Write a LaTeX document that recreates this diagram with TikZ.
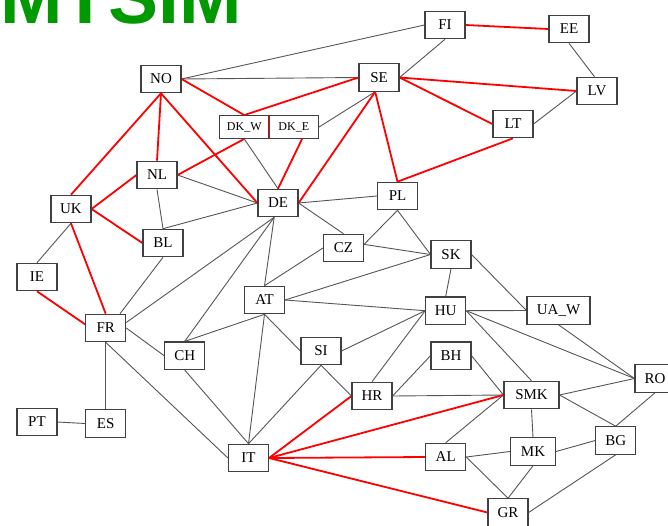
\documentclass[tikz,border=0pt]{standalone}
\usepackage{fontspec}
\setmainfont{Liberation Serif}
\newfontfamily\titlefont{Liberation Sans}
\definecolor{ttlgreen}{RGB}{0,153,0}
\definecolor{edgegray}{RGB}{85,85,85}
\definecolor{boxgray}{RGB}{64,64,64}
\pgfdeclarelayer{bg}
\pgfsetlayers{bg,main}
\begin{document}
\begin{tikzpicture}[x=1pt,y=-1pt,
  area/.style={draw=boxgray, line width=1.1pt, fill=white, minimum width=40pt,
    minimum height=27.5pt, inner sep=0pt, font=\fontsize{15}{15}\selectfont},
  dkbox/.style={area, minimum width=49.5pt, minimum height=22.7pt, font=\fontsize{12}{12}\selectfont},
  gl/.style={draw=edgegray, line width=0.9pt},
  rl/.style={draw=red, line width=1.8pt},
  ttl/.style={anchor=base west, inner sep=0pt, font=\titlefont\bfseries\fontsize{75}{75}\selectfont}]
\useasboundingbox (0,0) rectangle (668,525);
\clip (0,0) rectangle (668,525);
% title
\node[ttl, text=ttlgreen] (title) at (0,23) {MTSIM};
% nodes
\node[area] (fi) at (445,25) {FI};
\node[area] (ee) at (569,29) {EE};
\node[area] (no) at (161,79) {NO};
\node[area] (se) at (379,77.5) {SE};
\node[area] (lv) at (597,91) {LV};
\node[area] (lt) at (513,124) {LT};
\node[dkbox] (dkw) at (244.25,127) {DK\_W};
\node[dkbox] (dke) at (293.75,127) {DK\_E};
\node[area] (nl) at (157,175) {NL};
\node[area] (uk) at (71,209) {UK};
\node[area] (de) at (278,203) {DE};
\node[area] (bl) at (163,243) {BL};
\node[area] (ie) at (37,277) {IE};
\node[area] (at) at (264.5,300) {AT};
\node[area] (fr) at (105.7,328) {FR};
\node[area] (pl) at (397.5,196) {PL};
\node[area] (cz) at (343.5,248) {CZ};
\node[area] (sk) at (451,254.5) {SK};
\node[area] (hu) at (445.7,310.7) {HU};
\node[area, minimum width=63pt] (uaw) at (558.5,310.5) {UA\_W};
\node[area] (ch) at (184.7,355.7) {CH};
\node[area] (si) at (321,351) {SI};
\node[area] (pt) at (37,422) {PT};
\node[area] (es) at (105.7,423.5) {ES};
\node[area] (it) at (248.5,458) {IT};
\node[area] (hr) at (372,396) {HR};
\node[area] (bh) at (451,355.7) {BH};
\node[area, minimum width=55pt] (smk) at (531.5,395) {SMK};
\node[area] (ro) at (655,378.5) {RO};
\node[area] (bg) at (615.7,440.5) {BG};
\node[area, minimum width=45pt] (mk) at (533,451.5) {MK};
\node[area] (al) at (445.7,457) {AL};
\node[area] (gr) at (508,512.5) {GR};
\begin{pgfonlayer}{bg}
% gray connectors
\draw[gl] (no.east) -- (fi.west);
\draw[gl] (no.east) -- (se.west);
\draw[gl] (fi.south) -- (se.east);
\draw[gl] (ee.south) -- (lv.100);
\draw[gl] (lv.west) -- (lt.east);
\draw[gl] (se.255) -- (dke.east);
\draw[gl] (dkw.south) -- (de.north);
\draw[gl] (nl.east) -- (de.west);
\draw[gl] (nl.south) -- (bl.north);
\draw[gl] (bl.north) -- (de.west);
\draw[gl] (uk.south) -- (ie.north);
\draw[gl] (bl.south) -- (fr.45);
\draw[gl] (fr.15) -- (de.-105);
\draw[gl] (de.-105) -- (ch.north);
\draw[gl] (de.-105) -- (at.north);
\draw[gl] (de.east) -- (pl.west);
\draw[gl] (de.east) -- (cz.north);
\draw[gl] (pl.south) -- (cz.10);
\draw[gl] (pl.south) -- (sk.west);
\draw[gl] (cz.10) -- (sk.west);
\draw[gl] (cz.west) -- (at.north);
\draw[gl] (at.east) -- (sk.west);
\draw[gl] (at.east) -- (hu.west);
\draw[gl] (at.south) -- (ch.north);
\draw[gl] (at.south) -- (si.west);
\draw[gl] (at.south) -- (it.north);
\draw[gl] (sk.south) -- (hu.north);
\draw[gl] (sk.east) -- (uaw.west);
\draw[gl] (hu.east) -- (uaw.west);
\draw[gl] (si.east) -- (hu.west);
\draw[gl] (hu.west) -- (hr.north);
\draw[gl] (hu.east) -- (smk.north);
\draw[gl] (hu.east) -- (ro.west);
\draw[gl] (uaw.south) -- (ro.west);
\draw[gl] (fr.east) -- (ch.west);
\draw[gl] (fr.south) -- (es.north);
\draw[gl] (fr.south) -- (it.west);
\draw[gl] (pt.east) -- (es.west);
\draw[gl] (ch.south) -- (it.north);
\draw[gl] (si.south) -- (it.north);
\draw[gl] (si.south) -- (hr.west);
\draw[gl] (hr.east) -- (bh.west);
\draw[gl] (hr.east) -- (smk.west);
\draw[gl] (bh.east) -- (smk.west);
\draw[gl] (smk.east) -- (ro.west);
\draw[gl] (smk.east) -- (bg.north);
\draw[gl] (smk.south) -- (mk.north);
\draw[gl] (smk.west) -- (al.north);
\draw[gl] (al.east) -- (mk.west);
\draw[gl] (al.east) -- (gr.north);
\draw[gl] (mk.south) -- (gr.north);
\draw[gl] (mk.east) -- (bg.west);
\draw[gl] (ro.south) -- (bg.north);
\draw[gl] (bg.south) -- (gr.east);
% red connectors
\draw[rl] (fi.east) -- (ee.west);
\draw[rl] (se.east) -- (lv.west);
\draw[rl] (se.east) -- (lt.west);
\draw[rl] (no.east) -- (dkw.north);
\draw[rl] (se.west) -- (dkw.north);
\draw[rl] (se.255) -- (de.east);
\draw[rl] (se.255) -- (pl.north);
\draw[rl] (lt.south) -- (pl.north);
\draw[rl] (no.south) -- (nl.north);
\draw[rl] (no.south) -- (uk.north);
\draw[rl] (no.south) -- (de.west);
\draw[rl] (dkw.south) -- (nl.east);
\draw[rl] (dke.-55) -- (de.north);
\draw[rl] (uk.east) -- (nl.west);
\draw[rl] (uk.east) -- (bl.west);
\draw[rl] (uk.south) -- (fr.north);
\draw[rl] (ie.south) -- (fr.170);
\draw[rl] (it.east) -- (hr.west);
\draw[rl] (it.east) -- (smk.west);
\draw[rl] (it.east) -- (al.west);
\draw[rl] (it.east) -- (gr.west);
\end{pgfonlayer}
\draw[rl] (dkw.north east) -- (dkw.south east);
\end{tikzpicture}
\end{document}
